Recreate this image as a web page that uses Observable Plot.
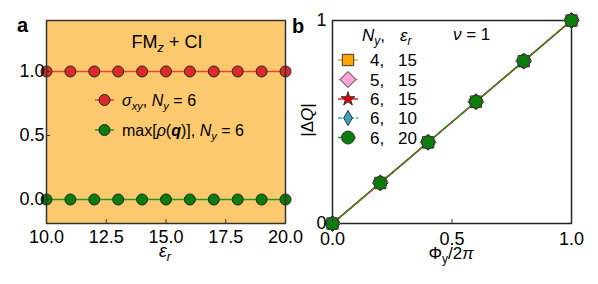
<!DOCTYPE html>
<html><head><meta charset="utf-8">
<script src="https://cdn.jsdelivr.net/npm/d3@7"></script>
<script src="https://cdn.jsdelivr.net/npm/@observablehq/plot@0.6"></script>
<style>
body{margin:0;background:#fff;}
#wrap{position:relative;width:598px;height:284px;font-family:"Liberation Sans",Arial,sans-serif;}
#wrap svg{position:absolute;top:0;overflow:visible;}
#wrap svg g[aria-label$="tick label"]{font-size:18px !important;font-family:"Liberation Sans",Arial,sans-serif !important;}
</style></head><body><div id="wrap"></div>
<script>
// ---- Panel a data ----
const epsR = [10, 11, 12, 13, 14, 15, 16, 17, 18, 19, 20];
const sigmaXY = [1, 1, 1, 1, 1, 1, 1, 1, 1, 1, 1];
const maxRho = [0, 0, 0, 0, 0, 0, 0, 0, 0, 0, 0];
const xTicksA = [10, 12.5, 15, 17.5, 20];
const yTicksA = [0, 0.5, 1];

// ---- Panel b data ----
const phiY = [0, 0.2, 0.4, 0.6, 0.8, 1.0];
const dQ_N4_e15 = [0, 0.2, 0.4, 0.6, 0.8, 1.0];
const dQ_N5_e15 = [0, 0.2, 0.4, 0.6, 0.8, 1.0];
const dQ_N6_e15 = [0, 0.2, 0.4, 0.6, 0.8, 1.0];
const dQ_N6_e10 = [0, 0.2, 0.4, 0.6, 0.8, 1.0];
const dQ_N6_e20 = [0, 0.2, 0.4, 0.6, 0.8, 1.0];
const legendNy = ["4", "5", "6", "6", "6"];
const legendEps = ["15", "15", "15", "10", "20"];
const xTicksB = [0, 0.5, 1];
const yTicksB = [0, 1];

const FONT = "'Liberation Sans', Arial, sans-serif";
const wrap = document.getElementById("wrap");

function rich(svg, x, y, parts, opts = {}) {
  const t = d3.select(svg).append("text").attr("x", x).attr("y", y)
    .attr("font-size", opts.size || 16).attr("text-anchor", opts.anchor || "start")
    .attr("font-weight", opts.weight || "normal").attr("fill", "#000")
    .attr("font-family", FONT);
  if (opts.rotate) t.attr("transform", `rotate(${opts.rotate},${x},${y})`);
  let shift = 0;
  for (const [s, st = ""] of parts) {
    const ts = t.append("tspan").text(s);
    const sub = st.includes("s");
    const target = sub ? 4 : 0;
    if (target !== shift) { ts.attr("dy", target - shift); shift = target; }
    if (sub) ts.attr("font-size", "0.7em");
    if (st.includes("i")) ts.attr("font-style", "italic");
    if (st.includes("b")) ts.attr("font-weight", "bold");
  }
  return t;
}

// ---------------- Panel a ----------------
const RED = "#DC2A2A", RED_L = "#E8452C", GREEN = "#0A7D0A", GREEN_L = "#1E9A1E";
const plotA = Plot.plot({
  width: 300, height: 284,
  marginLeft: 46, marginRight: 15, marginTop: 20, marginBottom: 61,
  style: {fontFamily: FONT, fontSize: "17px", color: "#000", background: "transparent", overflow: "visible"},
  x: {domain: [10, 20]},
  y: {domain: [-0.1875, 1.398]},
  marks: [
    Plot.frame({fill: "#FDC96E", stroke: null}),
    Plot.line(epsR, {x: epsR, y: sigmaXY, stroke: RED_L, strokeWidth: 1.5}),
    Plot.line(epsR, {x: epsR, y: maxRho, stroke: GREEN_L, strokeWidth: 1.5}),
    Plot.dot(epsR, {x: epsR, y: sigmaXY, r: 5.5, fill: RED, stroke: "#222", strokeWidth: 1}),
    Plot.dot(epsR, {x: epsR, y: maxRho, r: 5.5, fill: GREEN, stroke: "#222", strokeWidth: 1}),
    Plot.frame({stroke: "#333", strokeWidth: 1.5}),
    Plot.axisX(xTicksA, {tickSize: -4, tickPadding: 11, fontSize: 18, tickFormat: d3.format(".1f"), label: null, stroke: "#333"}),
    Plot.axisY(yTicksA, {tickSize: -4, tickPadding: 6, fontSize: 18, tickFormat: d3.format(".1f"), label: null, stroke: "#333"})
  ]
});
plotA.style.left = "0px";
wrap.appendChild(plotA);
{
  const g = d3.select(plotA).append("g");
  [[100, RED_L, RED], [130, GREEN_L, GREEN]].forEach(([y, lc, fc]) => {
    g.append("line").attr("x1", 95).attr("x2", 114).attr("y1", y).attr("y2", y).attr("stroke", lc).attr("stroke-width", 1.5);
    g.append("circle").attr("cx", 104.5).attr("cy", y).attr("r", 5.5).attr("fill", fc).attr("stroke", "#222");
  });
  rich(plotA, 122, 106, [["σ", "i"], ["xy", "is"], [", "], ["N", "i"], ["y", "is"], [" = 6"]]);
  rich(plotA, 122, 136, [["max[", ""], ["ρ", "i"], ["("], ["q", "ib"], [")], "], ["N", "i"], ["y", "is"], [" = 6"]]);
  rich(plotA, 167, 48, [["FM"], ["z", "is"], [" + CI"]], {anchor: "middle", size: 18});
  rich(plotA, 165, 257, [["ε", "i"], ["r", "is"]], {anchor: "middle", size: 18});
  rich(plotA, 17, 32, [["a"]], {weight: "bold", size: 20});
}

// ---------------- Panel b ----------------
const seriesB = [
  {vals: dQ_N4_e15, symbol: "square", r: 6.4, fill: "#FFA500", line: "#FFA500", dash: null},
  {vals: dQ_N5_e15, symbol: "diamond2", r: 7.2, fill: "#F7A3D6", line: "#F7A3D6", dash: null},
  {vals: dQ_N6_e10, symbol: "diamond", r: 4.6, fill: "#3BA3C2", line: "#3BA3C2", dash: "4,2"},
  {vals: dQ_N6_e15, symbol: "star", r: 4.4, fill: "#E00000", line: "#E8202A", dash: null},
  {vals: dQ_N6_e20, symbol: "circle", r: 6.5, fill: "#0A7D0A", line: "#1E961E", dash: "4,3"}
];
const plotB = Plot.plot({
  width: 298, height: 284,
  marginLeft: 32, marginRight: 27, marginTop: 20, marginBottom: 61,
  style: {fontFamily: FONT, fontSize: "17px", color: "#000", background: "transparent", overflow: "visible"},
  x: {domain: [0, 1]},
  y: {domain: [0, 1]},
  marks: [
    ...seriesB.map(s => Plot.line(phiY, {x: phiY, y: s.vals, stroke: s.line, strokeWidth: 1.5, strokeDasharray: s.dash})),
    Plot.frame({stroke: "#222", strokeWidth: 1.5}),
    ...[0, 1, 3, 2, 4].map(i => {
      const s = seriesB[i];
      return Plot.dot(phiY, {x: phiY, y: s.vals, symbol: () => s.symbol, r: s.r, fill: s.fill, stroke: "#333", strokeWidth: 1});
    }),
    Plot.axisX(xTicksB, {tickSize: -4, tickPadding: 13, fontSize: 18, tickFormat: d3.format(".1f"), label: null, stroke: "#333"}),
    Plot.axisY(yTicksB, {tickSize: 0, tickPadding: 6, fontSize: 18, tickFormat: d => String(d), label: null})
  ]
});
plotB.style.left = "300px";
wrap.appendChild(plotB);
{
  const g = d3.select(plotB).append("g");
  const rows = [60, 79.5, 99, 118, 137.5];
  const legOrder = [0, 1, 3, 2, 4];
  legOrder.forEach((si, k) => {
    const s = seriesB[si];
    const y = rows[k];
    g.append("line").attr("x1", 38).attr("x2", 58).attr("y1", y).attr("y2", y)
      .attr("stroke", s.line).attr("stroke-width", 1.5).attr("stroke-dasharray", s.dash);
    const sym = {square: d3.symbolSquare, diamond2: d3.symbolDiamond2, star: d3.symbolStar, diamond: d3.symbolDiamond, circle: d3.symbolCircle}[s.symbol];
    g.append("path").attr("transform", `translate(48,${y})`)
      .attr("d", d3.symbol(sym, Math.PI * s.r * s.r)())
      .attr("fill", s.fill).attr("stroke", "#333").attr("stroke-width", 1);
    rich(plotB, 70, y + 6, [[legendNy[k] + ","]], {size: 17});
    rich(plotB, 98, y + 6, [[legendEps[k]]], {size: 17});
  });
  rich(plotB, 62, 41, [["N", "i"], ["y", "is"], [","]], {size: 17});
  rich(plotB, 100, 41, [["ε", "i"], ["r", "is"]], {size: 17});
  rich(plotB, 153, 40, [["ν", "i"], [" = 1"]], {size: 17});
  rich(plotB, 151, 259, [["Φ"], ["y", "s"], ["/2"], ["π", "i"]], {anchor: "middle", size: 17});
  rich(plotB, 13, 120, [["|Δ"], ["Q", "i"], ["|"]], {anchor: "middle", rotate: -90, size: 17});
  rich(plotB, -8, 33, [["b"]], {weight: "bold", size: 20});
}
</script></body></html>
